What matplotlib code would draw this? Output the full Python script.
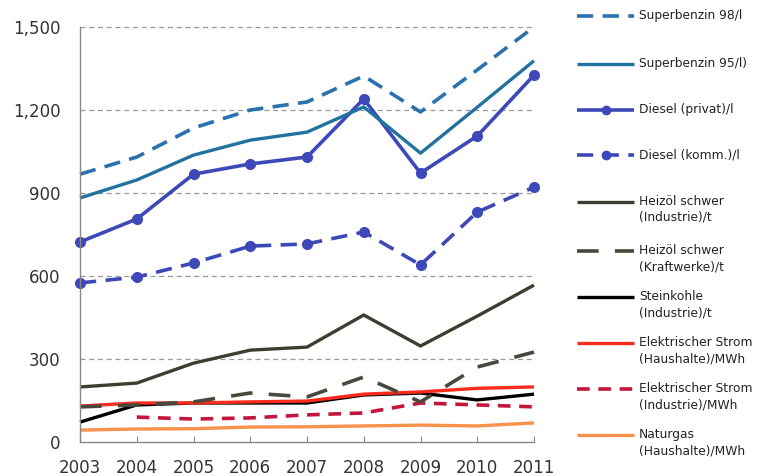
import matplotlib.pyplot as plt
from matplotlib.lines import Line2D

years = [2003, 2004, 2005, 2006, 2007, 2008, 2009, 2010, 2011]

super98 = [968, 1030, 1135, 1200, 1229, 1323, 1193, 1345, 1500]
super95 = [882, 947, 1037, 1091, 1120, 1211, 1044, 1210, 1378]
diesel_privat = [723, 806, 968, 1005, 1030, 1240, 972, 1106, 1326]
diesel_komm = [575, 596, 647, 708, 716, 759, 640, 831, 921]
heizoel_ind = [199, 213, 285, 332, 343, 459, 347, 455, 567]
heizoel_kw = [127, 134, 145, 177, 163, 235, 145, 271, 325]
steinkohle = [72, 134, 141, 141, 141, 170, 177, 152, 173]
strom_hh = [130, 141, 141, 145, 148, 173, 181, 194, 199]
strom_ind_years = years[1:]
strom_ind = [90, 83, 87, 98, 105, 141, 134, 127]
naturgas = [43, 47, 48, 54, 55, 58, 61, 58, 69]

c98 = '#2a72ad'
c95 = '#22729f'
cdiesel = '#3d49b8'
cheiz = '#3e3e30'
cheizkw = '#454a3c'
cred = '#fb2b1e'
ccrim = '#c4163c'
corange = '#f8914a'

# label, x, y, style
series = [
    ('Superbenzin 98/l', years, super98, dict(color=c98, lw=2.6, ls=(0, (4.5, 2.6)))),
    ('Superbenzin 95/l)', years, super95, dict(color=c95, lw=2.4, ls='-')),
    ('Diesel (privat)/l', years, diesel_privat, dict(color=cdiesel, lw=2.6, ls='-', marker='o', ms=7)),
    ('Diesel (komm.)/l', years, diesel_komm, dict(color=cdiesel, lw=2.6, ls=(0, (4.5, 2.6)), marker='o', ms=7)),
    ('Heizöl schwer\n(Industrie)/t', years, heizoel_ind, dict(color=cheiz, lw=2.4, ls='-')),
    ('Heizöl schwer\n(Kraftwerke)/t', years, heizoel_kw, dict(color=cheizkw, lw=2.6, ls=(0, (6, 4.5)))),
    ('Steinkohle\n(Industrie)/t', years, steinkohle, dict(color='black', lw=2.4, ls='-')),
    ('Elektrischer Strom\n(Haushalte)/MWh', years, strom_hh, dict(color=cred, lw=2.4, ls='-')),
    ('Elektrischer Strom\n(Industrie)/MWh', strom_ind_years, strom_ind, dict(color=ccrim, lw=2.6, ls=(0, (3.5, 2.4)))),
    ('Naturgas\n(Haushalte)/MWh', years, naturgas, dict(color=corange, lw=2.4, ls='-')),
]

fig = plt.figure(figsize=(7.68, 4.76), dpi=100)
ax = fig.add_axes([80 / 768, 1 - 442 / 476, 454 / 768, 415 / 476])

draw_order = [9, 8, 6, 7, 5, 4, 3, 2, 1, 0]
for i in draw_order:
    label, xs, ys, st = series[i]
    ax.plot(xs, ys, solid_capstyle='butt', dash_capstyle='butt', **st)

ax.set_xlim(2003, 2011)
ax.set_ylim(0, 1500)
ax.set_yticks([0, 300, 600, 900, 1200, 1500])
ax.set_yticklabels(['0', '300', '600', '900', '1,200', '1,500'])
ax.set_xticks(years)
ax.tick_params(axis='y', length=0, pad=14, labelsize=12, colors='#333333')
ax.tick_params(axis='x', direction='in', length=4, color='#888888', pad=12,
               labelsize=12, labelcolor='#333333')
for y in [300, 600, 900, 1200, 1500]:
    ax.axhline(y, color='#999999', lw=0.9, ls=(0, (4, 3)), zorder=0)
for s in ['top', 'right']:
    ax.spines[s].set_visible(False)
ax.spines['left'].set_color('#888888')
ax.spines['bottom'].set_color('#888888')
ax.spines['left'].set_linewidth(1.0)
ax.spines['bottom'].set_linewidth(1.0)
for ln in ax.lines:
    ln.set_clip_on(False)

# legend drawn by hand so the key sits on the first text line
leg = fig.add_axes([0, 0, 1, 1], facecolor='none')
leg.set_xlim(0, 768)
leg.set_ylim(476, 0)
leg.axis('off')
rows = [16, 64, 110, 155, 202, 251, 297, 343, 389, 435]
for (label, xs, ys, st), yy in zip(series, rows):
    kw = dict(st)
    marker = kw.pop('marker', None)
    ms = kw.pop('ms', None)
    leg.add_line(Line2D([577, 634], [yy, yy], solid_capstyle='butt', dash_capstyle='butt', **kw))
    if marker:
        leg.plot([606], [yy], marker=marker, ms=ms - 1, color=kw['color'])
    leg.text(639, yy - 7, label, fontsize=8.8, va='top', ha='left', color='#222222',
             linespacing=1.3)

fig.savefig('out.png', dpi=100)
